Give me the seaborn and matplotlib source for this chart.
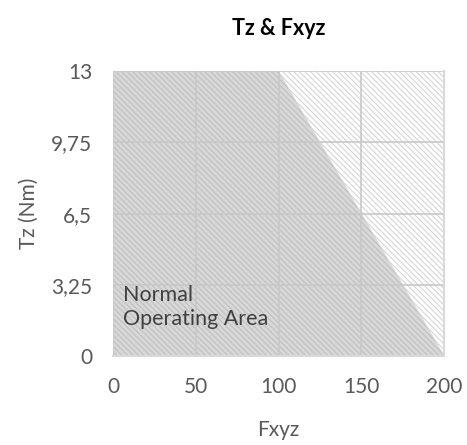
import matplotlib
matplotlib.use("Agg")
import matplotlib.pyplot as plt
import seaborn as sns
import pandas as pd

# data
fxyz_limit = [0, 100, 200]
tz_limit = [13, 13, 0]
fxyz_full = [0, 200]
tz_full = [13, 13]
x_ticks = [0, 50, 100, 150, 200]
y_ticks = [0, 3.25, 6.5, 9.75, 13]
y_tick_labels = ["0", "3,25", "6,5", "9,75", "13"]

sns.set_style("white")
plt.rcParams['font.family'] = ['Lato', 'DejaVu Sans']
plt.rcParams['hatch.linewidth'] = 0.8

df_limit = pd.DataFrame({'Fxyz': fxyz_limit, 'Tz': tz_limit})
df_full = pd.DataFrame({'Fxyz': fxyz_full, 'Tz': tz_full})

fig = plt.figure(figsize=(4.67, 4.45), dpi=100)
ax = fig.add_axes([0.242, 0.2, 0.709, 0.64])

# whole range, white with light hatch
ax.fill_between(df_full['Fxyz'], 0, df_full['Tz'], facecolor='white',
                edgecolor='#d6d6d6', hatch='\\\\\\\\\\\\', linewidth=0, zorder=1)
# normal operating area
ax.fill_between(df_limit['Fxyz'], 0, df_limit['Tz'], facecolor='#d8d8d8',
                edgecolor='#bfbfbf', hatch='\\\\\\\\\\\\', linewidth=0, zorder=2)
sns.lineplot(data=df_limit, x='Fxyz', y='Tz', ax=ax, color='#d8d8d8', lw=0.5, zorder=2)

ax.set_xlim(0, 200)
ax.set_ylim(0, 13)
ax.set_xticks(x_ticks)
ax.set_yticks(y_ticks)
ax.set_yticklabels(y_tick_labels)
ax.grid(True, color='#c8c8c8', lw=1.2, zorder=3)
ax.set_axisbelow(False)
for s in ['top', 'left']:
    ax.spines[s].set_visible(False)
for s in ['right', 'bottom']:
    ax.spines[s].set_color('#d9d9d9')
    ax.spines[s].set_linewidth(1.5)
    ax.spines[s].set_zorder(4)
ax.tick_params(length=0, labelsize=15, labelcolor='#595959', pad=15)

ax.set_xlabel('Fxyz', fontsize=15, color='#595959', labelpad=17)
ax.set_ylabel('Tz (Nm)', fontsize=15, color='#595959', labelpad=9)
ax.set_title('Tz & Fxyz', fontsize=15.5, fontweight='bold', color='black', pad=26)

ax.text(6, 1.25, 'Normal\nOperating Area', fontsize=15.5, color='#404040',
        ha='left', va='bottom', linespacing=1.25, zorder=5)

plt.savefig('out.png', dpi=100)
